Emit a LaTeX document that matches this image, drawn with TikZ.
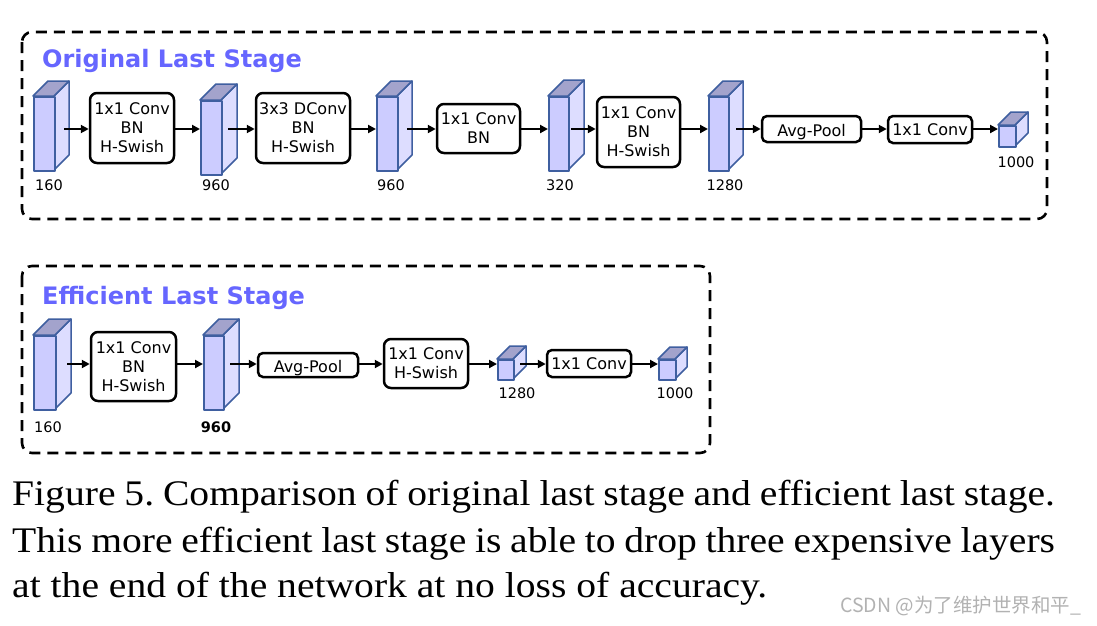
\documentclass[tikz,border=0pt]{standalone}
\usepackage{fontspec}
\setmainfont{Liberation Serif}
\newfontfamily\dv{DejaVu Sans}
\newfontfamily\cjk{Noto Sans CJK SC}
\usetikzlibrary{arrows.meta}
\definecolor{pfront}{RGB}{204,204,255}
\definecolor{pside}{RGB}{221,221,255}
\definecolor{ptop}{RGB}{163,163,204}
\definecolor{pstroke}{RGB}{63,95,160}
\definecolor{ttl}{RGB}{102,102,255}
\tikzset{
  frame/.style={draw=black, line width=2.6pt, dash pattern=on 11pt off 7pt, rounded corners=10pt},
  opbox/.style={draw=black, line width=2.5pt, rounded corners=7pt, fill=white, align=center, inner sep=0pt,
     font=\dv\fontsize{16}{19}\selectfont},
  arr/.style={line width=2.3pt, -{Triangle[length=8pt,width=8pt]}},
  numlbl/.style={font=\dv\fontsize{14.5}{17}\selectfont, inner sep=0pt},
  ttlstyle/.style={font=\dv\bfseries\fontsize{24}{28}\selectfont, text=ttl, inner sep=0pt, anchor=base west},
  caption/.style={font=\fontsize{36}{42}\selectfont\frenchspacing, inner sep=0pt, anchor=base west},
  face/.style={draw=pstroke, line width=1.5pt, line join=round}
}
% name, x, y, w, h, d
\newcommand\prismat[6]{%
  \filldraw[face, fill=pside] (#2+#4,#3) -- (#2+#4+#6,#3-#6) -- (#2+#4+#6,#3+#5-#6) -- (#2+#4,#3+#5) -- cycle;
  \filldraw[face, fill=ptop] (#2,#3) -- (#2+#6,#3-#6) -- (#2+#4+#6,#3-#6) -- (#2+#4,#3) -- cycle;
  \node[face, fill=pfront, inner sep=0pt, minimum width=#4pt, minimum height=#5pt, anchor=north west] (#1) at (#2,#3) {};
}
\newcommand\lowtext[1]{\raisebox{-3pt}[\height][\depth]{#1}}
\newcommand\capline[1]{\scalebox{1.1}[1]{#1}}
\begin{document}
\begin{tikzpicture}[x=1pt,y=-1pt]
\useasboundingbox[fill=white] (0,0) rectangle (1097,625);

% ---------------- Original last stage ----------------
\draw[frame] (22,32) rectangle (1047,219);
\node[ttlstyle] (t1) at (42,67) {Original Last Stage};
\coordinate (rowA) at (0,129);

\prismat{a1}{33}{96}{21}{74}{15}
\prismat{a2}{200}{100}{21}{74}{16}
\prismat{a3}{376}{96}{21}{74}{15}
\prismat{a4}{548}{96}{20}{74}{16}
\prismat{a5}{708}{96}{20}{74}{15}
\prismat{a6}{998}{125}{17}{21}{13}

\coordinate (a1o) at (64,129);
\coordinate (a2o) at (228,129);
\coordinate (a3o) at (407,129);
\coordinate (a4o) at (571,129);
\coordinate (a5o) at (736,129);

\node[opbox, minimum width=84pt, minimum height=70pt] (ab1) at (132,128) {1x1 Conv\\BN\\H-Swish};
\node[opbox, minimum width=94pt, minimum height=70pt] (ab2) at (303,128) {3x3 DConv\\BN\\H-Swish};
\node[opbox, minimum width=83pt, minimum height=49pt] (ab3) at (478.5,128.5) {1x1 Conv\\BN};
\node[opbox, minimum width=83pt, minimum height=70pt] (ab4) at (638.5,132) {1x1 Conv\\BN\\H-Swish};
\node[opbox, minimum width=99pt, minimum height=26pt, rounded corners=5pt] (ab5) at (811.5,129) {\lowtext{Avg-Pool}};
\node[opbox, minimum width=84pt, minimum height=27pt, rounded corners=5pt] (ab6) at (930,129.5) {1x1 Conv};

\draw[arr] (a1o) -- (ab1.west |- rowA);
\draw[arr] (ab1.east |- rowA) -- (a2.west |- rowA);
\draw[arr] (a2o) -- (ab2.west |- rowA);
\draw[arr] (ab2.east |- rowA) -- (a3.west |- rowA);
\draw[arr] (a3o) -- (ab3.west |- rowA);
\draw[arr] (ab3.east |- rowA) -- (a4.west |- rowA);
\draw[arr] (a4o) -- (ab4.west |- rowA);
\draw[arr] (ab4.east |- rowA) -- (a5.west |- rowA);
\draw[arr] (a5o) -- (ab5.west |- rowA);
\draw[arr] (ab5.east |- rowA) -- (ab6.west |- rowA);
\draw[arr] (ab6.east |- rowA) -- (a6.west |- rowA);

\node[numlbl] (al1) at (49,185) {160};
\node[numlbl] (al2) at (216,185) {960};
\node[numlbl] (al3) at (391,185) {960};
\node[numlbl] (al4) at (560,185) {320};
\node[numlbl] (al5) at (725,185) {1280};
\node[numlbl] (al6) at (1016,162) {1000};

% ---------------- Efficient last stage ----------------
\draw[frame] (22,266) rectangle (710,453);
\node[ttlstyle] (t2) at (42,304) {Efficient Last Stage};
\coordinate (rowB) at (0,364);

\prismat{b1}{33}{335}{22}{74}{16}
\prismat{b2}{203}{335}{20}{74}{16}
\prismat{b3}{497}{359}{16}{20}{13}
\prismat{b4}{658}{359}{17}{20}{12}

\coordinate (b1o) at (67,364);
\coordinate (b2o) at (230,364);
\coordinate (b3o) at (520,364);

\node[opbox, minimum width=85pt, minimum height=69pt] (bb1) at (133.5,366.5) {1x1 Conv\\BN\\H-Swish};
\node[opbox, minimum width=100pt, minimum height=24pt, rounded corners=5pt] (bb2) at (308,365) {\lowtext{Avg-Pool}};
\node[opbox, minimum width=84pt, minimum height=49pt] (bb3) at (426,363.5) {1x1 Conv\\H-Swish};
\node[opbox, minimum width=84pt, minimum height=27pt, rounded corners=5pt] (bb4) at (589,363.5) {1x1 Conv};

\draw[arr] (b1o) -- (bb1.west |- rowB);
\draw[arr] (bb1.east |- rowB) -- (b2.west |- rowB);
\draw[arr] (b2o) -- (bb2.west |- rowB);
\draw[arr] (bb2.east |- rowB) -- (bb3.west |- rowB);
\draw[arr] (bb3.east |- rowB) -- (b3.west |- rowB);
\draw[arr] (b3o) -- (bb4.west |- rowB);
\draw[arr] (bb4.east |- rowB) -- (b4.west |- rowB);

\node[numlbl] (bl1) at (48,427) {160};
\node[numlbl, font=\dv\bfseries\fontsize{14.5}{17}\selectfont] (bl2) at (216,427) {960};
\node[numlbl] (bl3) at (517,393) {1280};
\node[numlbl] (bl4) at (675,393) {1000};

% ---------------- Caption ----------------
\node[caption] (c1) at (12,505) {\capline{\makebox[948pt][s]{Figure 5. Comparison of original last stage and efficient last stage.}}};
\node[caption] (c2) at (12,552) {\capline{\makebox[948pt][s]{This more efficient last stage is able to drop three expensive layers}}};
\node[caption] (c3) at (12,597) {\capline{at the end of the network at no loss of accuracy.}};

\node[font=\cjk\fontsize{19.5}{22}\selectfont, text=black!30, inner sep=0pt, anchor=west] (wm) at (840,606) {CSDN @为了维护世界和平\_};
\end{tikzpicture}
\end{document}
